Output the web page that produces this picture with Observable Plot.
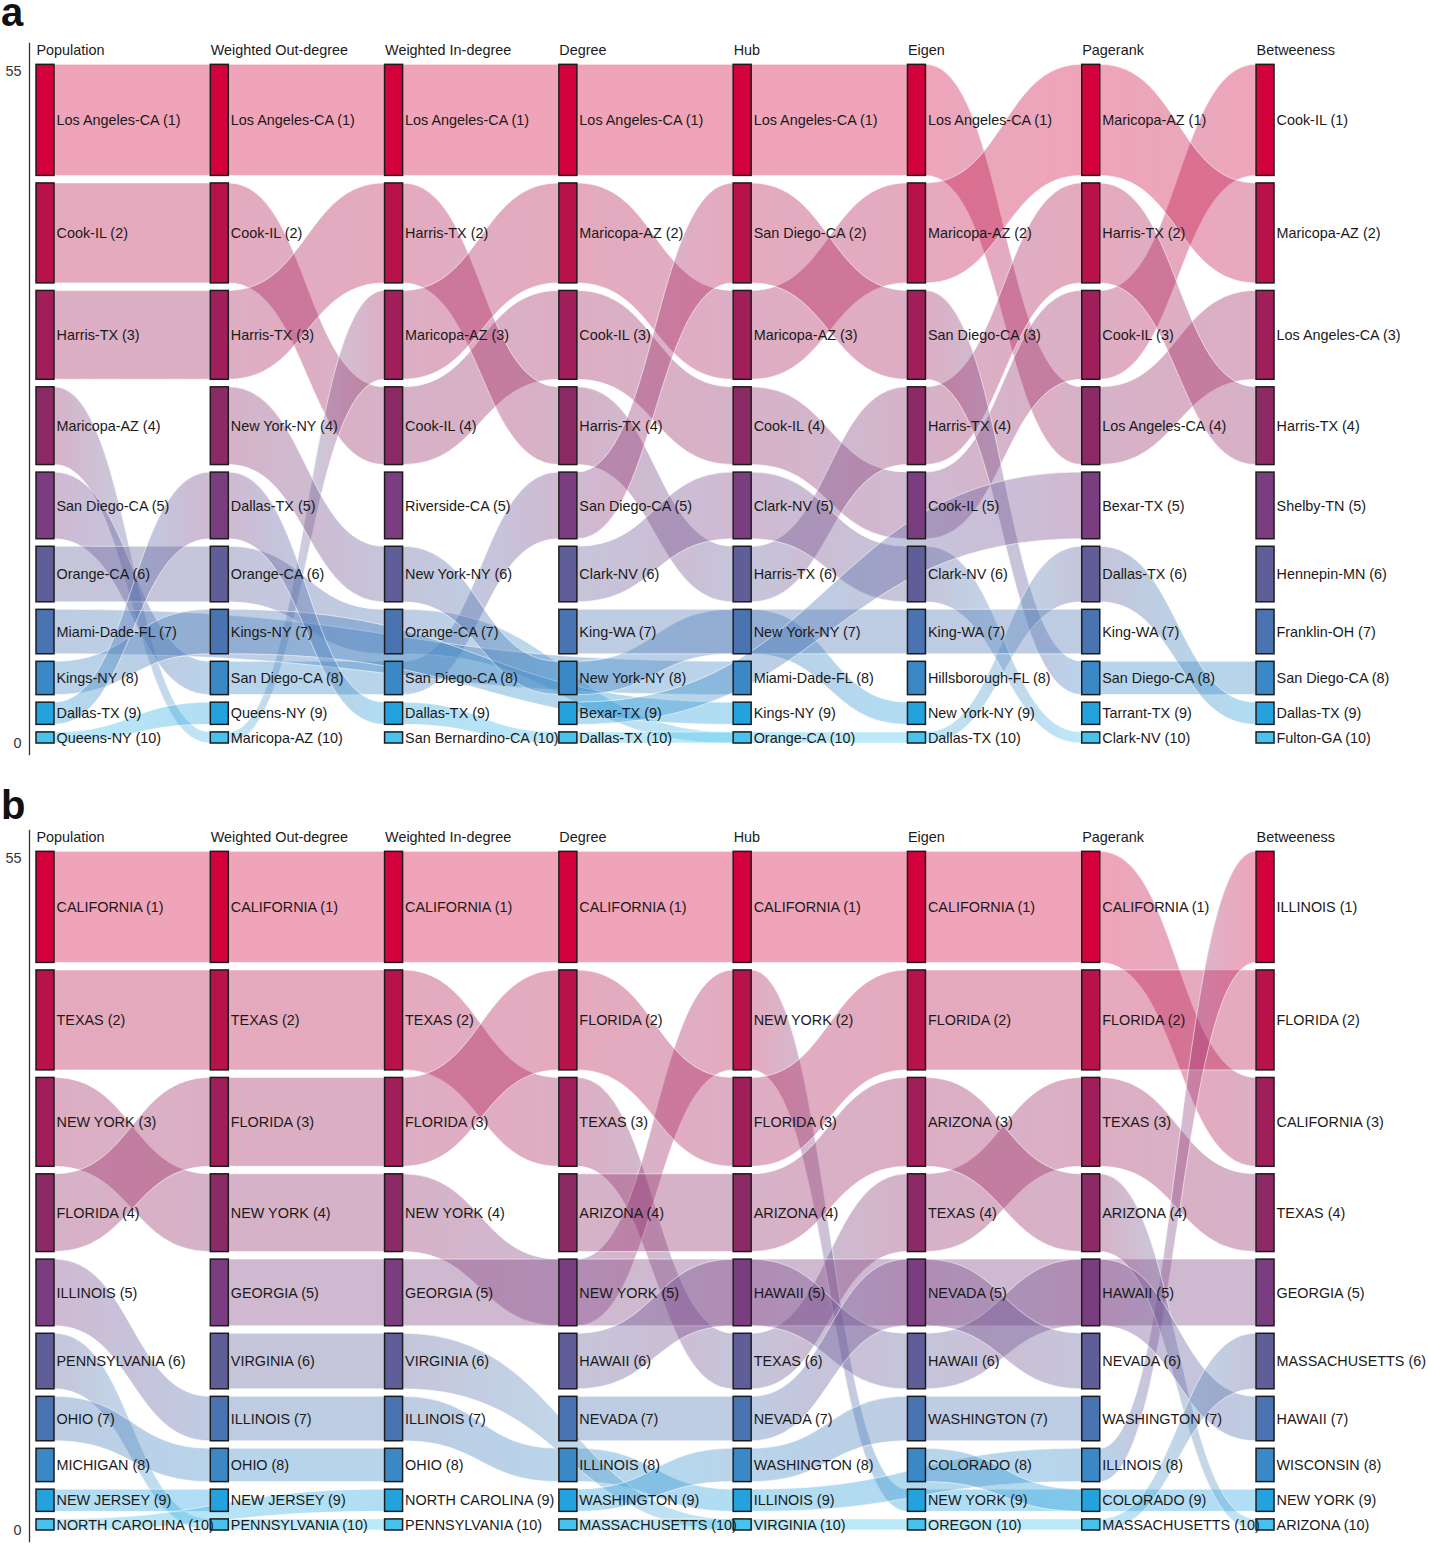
<!DOCTYPE html>
<html><head><meta charset="utf-8">
<script src="https://cdn.jsdelivr.net/npm/d3@7"></script>
<script src="https://cdn.jsdelivr.net/npm/@observablehq/plot@0.6"></script>
<style>
body{margin:0;background:#fff;font-family:"Liberation Sans",Arial,sans-serif;overflow:hidden}
#wrap{position:relative;width:1429px;height:1546px}
.letter{position:absolute;z-index:2;font-weight:bold;font-size:40px;line-height:24px;color:#111}
.panel{position:absolute;left:0;z-index:1}
</style></head><body>
<div id="wrap">
<div class="panel" id="pa" style="top:28px"></div>
<div class="panel" id="pb" style="top:815px"></div>
<div class="letter" style="left:1px;top:0px">a</div>
<div class="letter" style="left:1px;top:793px">b</div>
</div>
<script>
// Column (measure) titles
const measures = ["Population","Weighted Out-degree","Weighted In-degree","Degree","Hub","Eigen","Pagerank","Betweeness"];

// Panel a: top-10 counties per measure (rank = position + 1)
const countyPopulation = ["Los Angeles-CA","Cook-IL","Harris-TX","Maricopa-AZ","San Diego-CA","Orange-CA","Miami-Dade-FL","Kings-NY","Dallas-TX","Queens-NY"];
const countyOutDegree  = ["Los Angeles-CA","Cook-IL","Harris-TX","New York-NY","Dallas-TX","Orange-CA","Kings-NY","San Diego-CA","Queens-NY","Maricopa-AZ"];
const countyInDegree   = ["Los Angeles-CA","Harris-TX","Maricopa-AZ","Cook-IL","Riverside-CA","New York-NY","Orange-CA","San Diego-CA","Dallas-TX","San Bernardino-CA"];
const countyDegree     = ["Los Angeles-CA","Maricopa-AZ","Cook-IL","Harris-TX","San Diego-CA","Clark-NV","King-WA","New York-NY","Bexar-TX","Dallas-TX"];
const countyHub        = ["Los Angeles-CA","San Diego-CA","Maricopa-AZ","Cook-IL","Clark-NV","Harris-TX","New York-NY","Miami-Dade-FL","Kings-NY","Orange-CA"];
const countyEigen      = ["Los Angeles-CA","Maricopa-AZ","San Diego-CA","Harris-TX","Cook-IL","Clark-NV","King-WA","Hillsborough-FL","New York-NY","Dallas-TX"];
const countyPagerank   = ["Maricopa-AZ","Harris-TX","Cook-IL","Los Angeles-CA","Bexar-TX","Dallas-TX","King-WA","San Diego-CA","Tarrant-TX","Clark-NV"];
const countyBetweeness = ["Cook-IL","Maricopa-AZ","Los Angeles-CA","Harris-TX","Shelby-TN","Hennepin-MN","Franklin-OH","San Diego-CA","Dallas-TX","Fulton-GA"];

// Panel b: top-10 states per measure
const statePopulation = ["CALIFORNIA","TEXAS","NEW YORK","FLORIDA","ILLINOIS","PENNSYLVANIA","OHIO","MICHIGAN","NEW JERSEY","NORTH CAROLINA"];
const stateOutDegree  = ["CALIFORNIA","TEXAS","FLORIDA","NEW YORK","GEORGIA","VIRGINIA","ILLINOIS","OHIO","NEW JERSEY","PENNSYLVANIA"];
const stateInDegree   = ["CALIFORNIA","TEXAS","FLORIDA","NEW YORK","GEORGIA","VIRGINIA","ILLINOIS","OHIO","NORTH CAROLINA","PENNSYLVANIA"];
const stateDegree     = ["CALIFORNIA","FLORIDA","TEXAS","ARIZONA","NEW YORK","HAWAII","NEVADA","ILLINOIS","WASHINGTON","MASSACHUSETTS"];
const stateHub        = ["CALIFORNIA","NEW YORK","FLORIDA","ARIZONA","HAWAII","TEXAS","NEVADA","WASHINGTON","ILLINOIS","VIRGINIA"];
const stateEigen      = ["CALIFORNIA","FLORIDA","ARIZONA","TEXAS","NEVADA","HAWAII","WASHINGTON","COLORADO","NEW YORK","OREGON"];
const statePagerank   = ["CALIFORNIA","FLORIDA","TEXAS","ARIZONA","HAWAII","NEVADA","WASHINGTON","ILLINOIS","COLORADO","MASSACHUSETTS"];
const stateBetweeness = ["ILLINOIS","FLORIDA","CALIFORNIA","TEXAS","GEORGIA","MASSACHUSETTS","HAWAII","WISCONSIN","NEW YORK","ARIZONA"];

// Rank colours (rank 1 .. 10)
const rankColors = ["#d4023c","#b8124b","#a01f5a","#8c2a66","#7a3d80","#5f5e99","#4a73b2","#3a88c6","#24a2de","#46c2ec"];

// Layout constants (axis units: whole stack spans 0..55)
const UNIT = 0.9;                       // axis units per value unit
const GAP = (55 - 55 * UNIT) / 9;       // gap between stacked nodes
const COLW = 18 / 174.29;               // node width in column units

function nodeTop(rank) {
  let t = 55;
  for (let k = 1; k < rank; k++) t -= (11 - k) * UNIT + GAP;
  return t;
}

function buildPanel(cols, el, prefix) {
  const nodes = [];
  cols.forEach((list, c) => list.forEach((name, k) => {
    const rank = k + 1, value = 11 - rank, top = nodeTop(rank);
    nodes.push({col: c, rank, name, value, top, bottom: top - value * UNIT});
  }));
  const links = [], linkMeta = [];
  const names = Array.from(new Set(nodes.map(d => d.name)));
  let id = 0;
  for (const name of names) {
    const seq = nodes.filter(d => d.name === name).sort((a, b) => a.col - b.col);
    for (let i = 0; i < seq.length - 1; i++) {
      const s = seq[i], t = seq[i + 1];
      const grad = `url(#${prefix}-g${id})`;
      linkMeta.push({id, c0: rankColors[s.rank - 1], c1: rankColors[t.rank - 1]});
      links.push({id, x: s.col + COLW, y1: s.bottom, y2: s.top, grad});
      links.push({id, x: t.col, y1: t.bottom, y2: t.top, grad});
      id++;
    }
  }
  // gradient definitions: source colour -> target colour, left to right
  const gradientDefs = () => {
    const defs = d3.create("svg:defs");
    for (const l of linkMeta) {
      const g = defs.append("linearGradient").attr("id", `${prefix}-g${l.id}`)
        .attr("x1", "0%").attr("x2", "100%").attr("y1", "0%").attr("y2", "0%");
      g.append("stop").attr("offset", "0%").attr("stop-color", l.c0);
      g.append("stop").attr("offset", "100%").attr("stop-color", l.c1);
    }
    return defs.node();
  };
  const font = '"Liberation Sans", Arial, sans-serif';
  const chart = Plot.plot({
    width: 1429, height: 730,
    marginLeft: 29, marginRight: 0, marginTop: 15, marginBottom: 4,
    x: {domain: [0, 7], range: [36, 36 + 174.29 * 7], axis: null},
    y: {domain: [-0.89, 56.73], axis: null},
    color: {type: "identity"},
    style: {fontFamily: font, fontSize: "14.4px", color: "#1a1a1a", background: "transparent", overflow: "visible"},
    marks: [
      gradientDefs,
      Plot.frame({anchor: "left", stroke: "#333", strokeWidth: 1.3}),
      Plot.axisY({ticks: [0], tickSize: 0, tickPadding: 8, fontSize: 14.4, label: null, fill: "#333"}),
      Plot.axisY({ticks: [55], tickSize: 0, tickPadding: 8, fontSize: 14.4, label: null, fill: "#333", dy: 7}),
      Plot.areaY(links, {x: "x", y1: "y1", y2: "y2", z: "id", fill: "grad", fillOpacity: 0.36,
        stroke: "white", strokeOpacity: 0.55, strokeWidth: 1, curve: "bump-x"}),
      Plot.rect(nodes, {x1: "col", x2: d => d.col + COLW, y1: "bottom", y2: "top",
        fill: d => rankColors[d.rank - 1], stroke: "#1c1c1c", strokeWidth: 1.5}),
      Plot.text(nodes, {x: d => d.col + COLW, y: d => (d.top + d.bottom) / 2,
        text: d => `${d.name} (${d.rank})`, textAnchor: "start", dx: 2, fontSize: 14.4, fill: "#1a1a1a"}),
      Plot.text(measures, {x: (d, i) => i, y: () => 55, text: d => d, textAnchor: "start",
        lineAnchor: "bottom", dy: -10, fontSize: 14.4, fill: "#1a1a1a"})
    ]
  });
  document.getElementById(el).appendChild(chart);
}

buildPanel([countyPopulation, countyOutDegree, countyInDegree, countyDegree, countyHub, countyEigen, countyPagerank, countyBetweeness], "pa", "a");
buildPanel([statePopulation, stateOutDegree, stateInDegree, stateDegree, stateHub, stateEigen, statePagerank, stateBetweeness], "pb", "b");
</script>
</body></html>
